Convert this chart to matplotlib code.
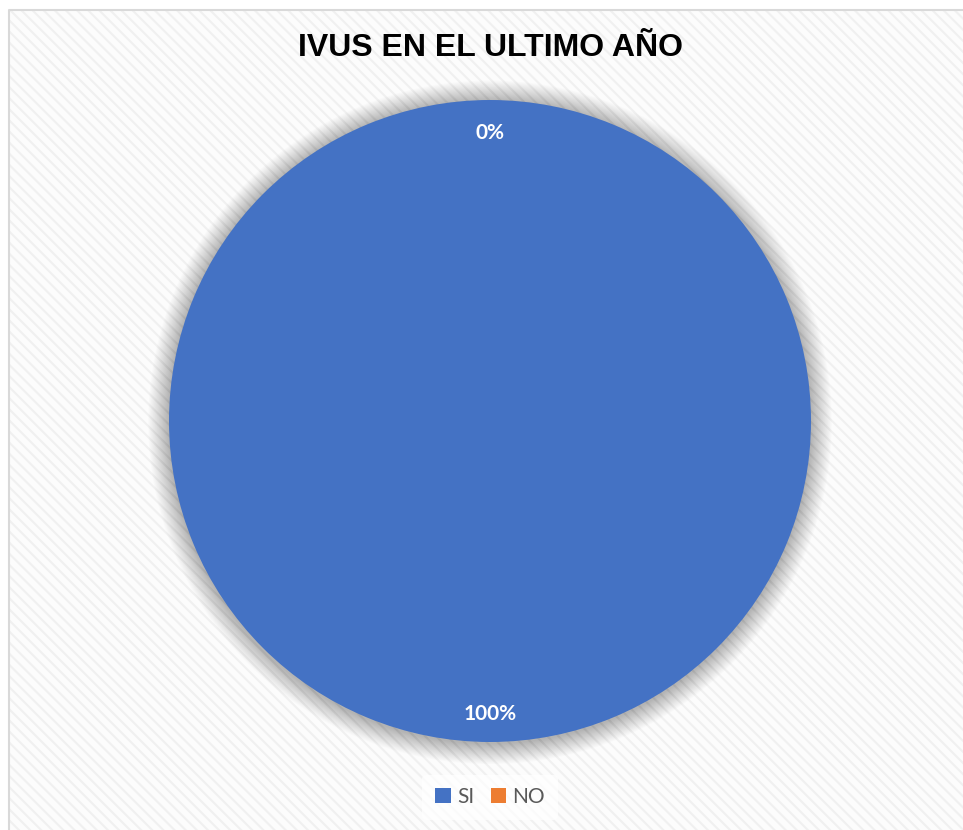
import matplotlib
matplotlib.use('Agg')
import matplotlib.pyplot as plt
from matplotlib.patches import Rectangle, Circle

categories = ['SI', 'NO']
values = [100, 0]
colors = ['#4472C4', '#ED7D31']
title = 'IVUS EN EL ULTIMO AÑO'

W, H = 963, 830
fig = plt.figure(figsize=(W / 100, H / 100), dpi=100)
fig.patch.set_facecolor('white')

# chart area with light diagonal stripes
plt.rcParams['hatch.linewidth'] = 1.5
bg = Rectangle((8 / W, 0), 1 - 8 / W, 1 - 10 / H, transform=fig.transFigure,
               facecolor='#fcfcfc', edgecolor='#f0f0f0', hatch='\\\\\\',
               linewidth=0, zorder=-2)
fig.patches.append(bg)
# only the left and top edges of the chart frame are visible
fig.add_artist(plt.Line2D([8.5 / W, 8.5 / W, 1], [0, 1 - 10.5 / H, 1 - 10.5 / H],
                          transform=fig.transFigure, color='#d9d9d9', lw=1.5, zorder=-1))

# pie axes: centre at (490, 421) px, radius 321 px
r = 321
lim = 1.1
side = 2 * lim * r
ax = fig.add_axes([(490 - side / 2) / W, (H - 421 - side / 2) / H, side / W, side / H])

# soft shadow around the pie
n = 24
for i in range(n):
    rr = 1.0 + 0.065 * (n - i) / n
    ax.add_patch(Circle((0, -0.004), rr, facecolor='#000000', alpha=0.01,
                        edgecolor='none', zorder=1))

wedges, texts, autotexts = ax.pie(
    values, colors=colors, startangle=90, counterclock=False,
    autopct='%1.0f%%', pctdistance=0.905, radius=1.0,
    wedgeprops=dict(edgecolor='none', zorder=2),
    textprops=dict(color='white', fontsize=15, fontweight='bold', family='Lato'))
for t in autotexts:
    x, y = t.get_position()
    t.set_position((x, y - 0.009))
    t.set_zorder(5)
ax.set_xlim(-lim, lim)
ax.set_ylim(-lim, lim)
ax.set_aspect('equal')
ax.axis('off')

fig.text(490 / W, 1 - 48 / H, title, ha='center', va='center',
         fontsize=23, fontweight='bold', family='Liberation Sans', color='black')

leg = fig.legend(wedges, categories, loc='center', bbox_to_anchor=(490 / W, 1 - 797 / H),
                 ncol=2, frameon=True, handlelength=0.75, handleheight=0.75,
                 handletextpad=0.3, columnspacing=0.8, borderpad=0.6,
                 prop=dict(family='Lato', size=15))
leg.get_frame().set_facecolor('white')
leg.get_frame().set_edgecolor('none')
leg.get_frame().set_alpha(0.7)
for t in leg.get_texts():
    t.set_color('#595959')

fig.savefig('out.png', dpi=100)
